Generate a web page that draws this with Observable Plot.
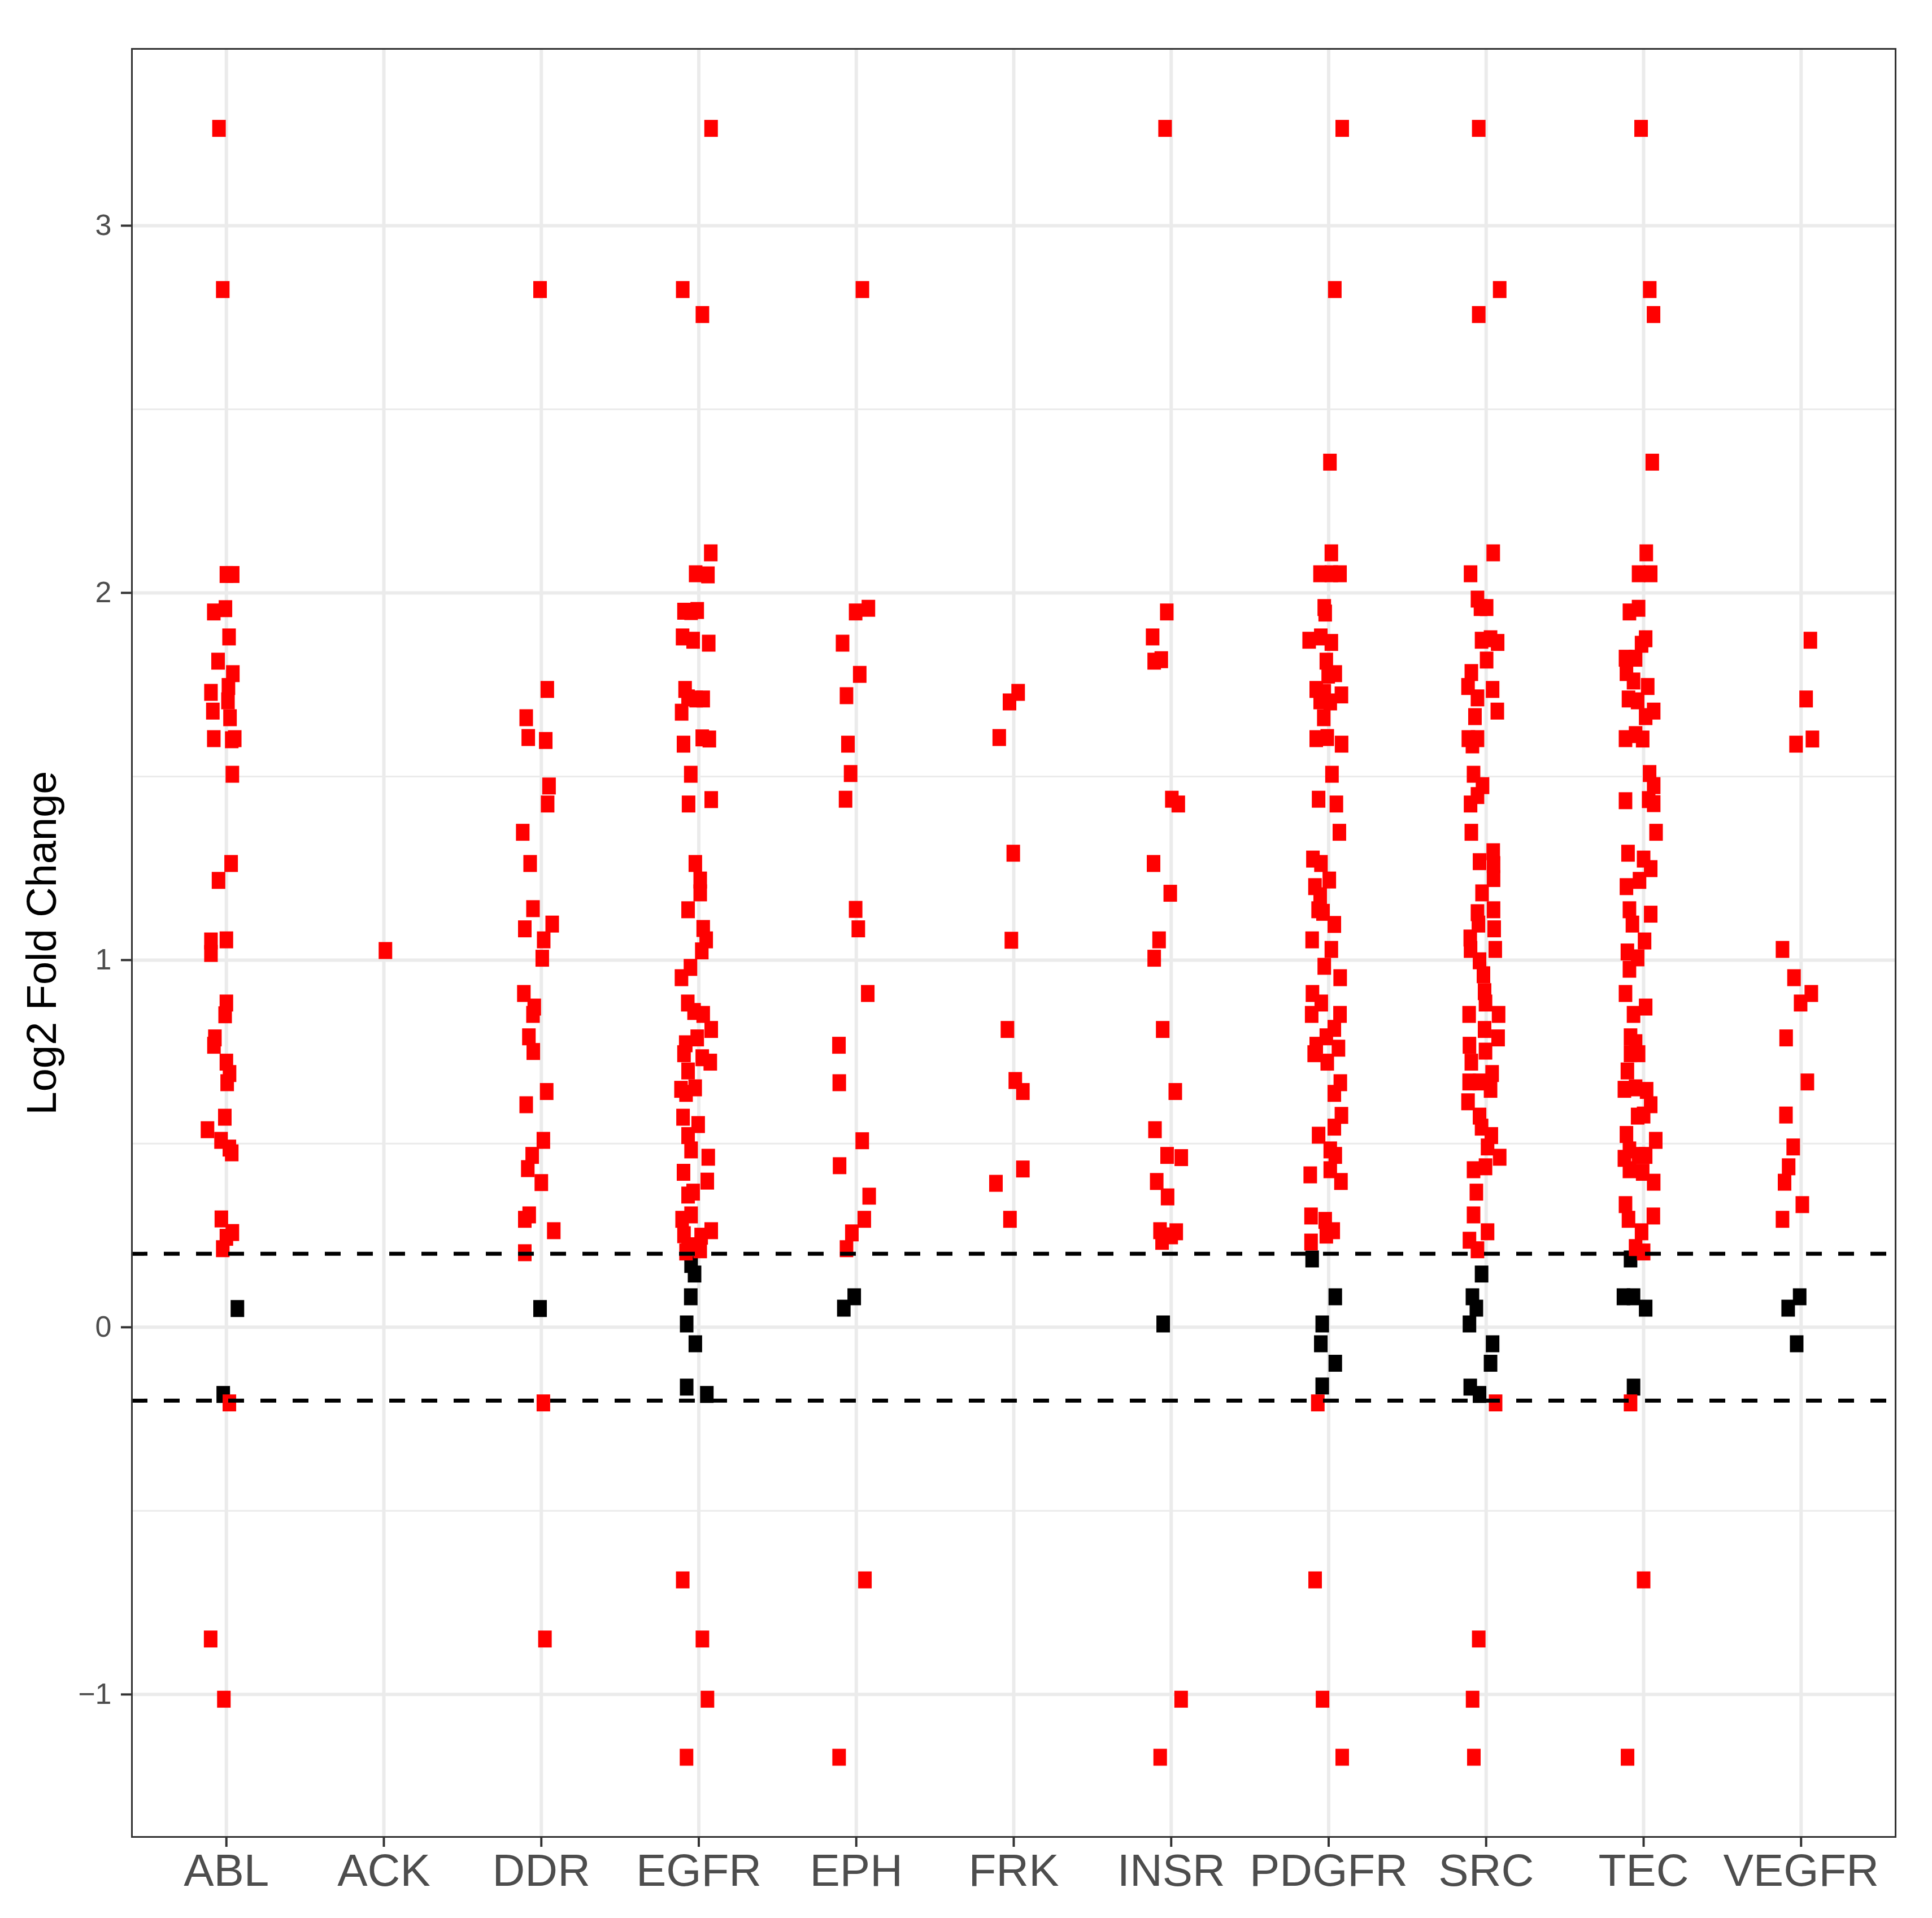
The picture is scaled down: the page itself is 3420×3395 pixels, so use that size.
<!DOCTYPE html>
<html><head><meta charset="utf-8">
<script src="https://cdn.jsdelivr.net/npm/d3@7"></script>
<script src="https://cdn.jsdelivr.net/npm/@observablehq/plot@0.6"></script>
<style>html,body{margin:0;padding:0;background:#fff;} #chart svg{display:block;}</style>
</head><body><div id="chart"></div>
<script>
const kinases = ["ABL","ACK","DDR","EGFR","EPH","FRK","INSR","PDGFR","SRC","TEC","VEGFR"];
const yTicks = [-1, 0, 1, 2, 3];
const yMinor = [-0.5, 0.5, 1.5, 2.5];
const threshold = 0.2;
const yLabel = "Log2 Fold Change";

// [log2 fold change, horizontal jitter (category units)]
const ABL = [[3.265,-0.047],[2.826,-0.023],[2.05,0],[2.05,0.04],[1.948,-0.08],[1.957,-0.006],[1.88,0.017],[1.814,-0.053],[1.78,0.041],[1.729,-0.098],[1.745,0.013],[1.706,0.01],[1.66,0.023],[1.678,-0.086],[1.603,-0.08],[1.603,0.053],[1.6,0.034],[1.506,0.038],[1.263,0.03],[1.217,-0.05],[1.052,-0.098],[1.018,-0.098],[1.055,0],[0.883,0],[0.851,-0.008],[0.788,-0.073],[0.768,-0.079],[0.722,0],[0.691,0.02],[0.666,0.005],[0.572,-0.01],[0.538,-0.12],[0.509,-0.034],[0.488,0.019],[0.475,0.034],[0.295,-0.032],[0.258,0.038],[0.245,0],[0.214,-0.023],[0.051,0.07],[-0.183,-0.02],[-0.206,0.019],[-0.849,-0.1],[-1.013,-0.016]];
const ACK = [[1.026,0.01]];
const DDR = [[2.826,-0.008],[1.737,0.038],[1.66,-0.096],[1.606,-0.083],[1.598,0.028],[1.474,0.049],[1.425,0.04],[1.348,-0.118],[1.263,-0.071],[1.14,-0.053],[1.098,0.069],[1.085,-0.105],[1.055,0.015],[1.005,0.006],[0.909,-0.111],[0.872,-0.045],[0.852,-0.053],[0.791,-0.079],[0.751,-0.051],[0.642,0.034],[0.606,-0.096],[0.509,0.013],[0.468,-0.058],[0.432,-0.086],[0.394,0],[0.294,-0.105],[0.306,-0.077],[0.263,0.079],[0.203,-0.105],[0.051,-0.008],[-0.206,0.013],[-0.849,0.023]];
const EGFR = [[3.265,0.078],[2.826,-0.102],[2.758,0.023],[2.109,0.076],[2.052,-0.02],[2.049,0.058],[1.95,-0.094],[1.949,-0.049],[1.952,-0.01],[1.88,-0.103],[1.871,-0.036],[1.863,0.063],[1.737,-0.087],[1.714,-0.068],[1.711,-0.017],[1.711,0.028],[1.675,-0.109],[1.588,-0.097],[1.605,0.022],[1.602,0.067],[1.506,-0.051],[1.425,-0.065],[1.437,0.079],[1.263,-0.022],[1.218,0.009],[1.183,0.009],[1.137,-0.068],[1.086,0.028],[1.055,0.047],[1.025,0.019],[0.98,-0.053],[0.952,-0.11],[0.883,-0.07],[0.86,-0.03],[0.852,0.028],[0.811,0.079],[0.772,-0.083],[0.788,-0.01],[0.745,-0.094],[0.722,0.073],[0.734,0.022],[0.698,-0.068],[0.648,-0.113],[0.637,-0.081],[0.652,-0.023],[0.572,-0.1],[0.552,-0.004],[0.522,-0.068],[0.483,-0.049],[0.463,0.06],[0.422,-0.097],[0.398,0.054],[0.36,-0.068],[0.368,-0.036],[0.294,-0.106],[0.306,-0.049],[0.263,0.079],[0.252,-0.094],[0.248,0.015],[0.222,-0.068],[0.211,0.009],[0.205,-0.081],[0.171,-0.049],[0.145,-0.027],[0.083,-0.051],[0.009,-0.077],[-0.045,-0.022],[-0.163,-0.077],[-0.183,0.051],[-0.688,-0.102],[-0.849,0.023],[-1.013,0.055],[-1.171,-0.078]];
const EPH = [[2.826,0.039],[1.958,0.077],[1.948,-0.004],[1.863,-0.087],[1.778,0.022],[1.72,-0.062],[1.588,-0.053],[1.508,-0.036],[1.438,-0.068],[1.138,-0.004],[1.085,0.013],[0.909,0.073],[0.768,-0.11],[0.666,-0.108],[0.508,0.038],[0.44,-0.106],[0.357,0.082],[0.294,0.051],[0.257,-0.028],[0.214,-0.062],[0.083,-0.013],[0.052,-0.079],[-0.688,0.055],[-1.171,-0.109]];
const FRK = [[1.729,0.028],[1.703,-0.027],[1.606,-0.092],[1.291,-0.003],[1.054,-0.015],[0.811,-0.04],[0.672,0.01],[0.642,0.058],[0.431,0.058],[0.392,-0.113],[0.294,-0.024]];
const INSR = [[3.265,-0.039],[1.948,-0.028],[1.88,-0.118],[1.814,-0.108],[1.818,-0.063],[1.438,0.004],[1.425,0.045],[1.263,-0.112],[1.182,-0.006],[1.055,-0.077],[1.005,-0.108],[0.811,-0.054],[0.642,0.026],[0.538,-0.103],[0.468,-0.026],[0.462,0.064],[0.397,-0.092],[0.355,-0.023],[0.263,-0.071],[0.26,0.032],[0.249,0],[0.234,-0.058],[0.009,-0.051],[-1.013,0.063],[-1.171,-0.07]];
const PDGFR = [[3.265,0.086],[2.826,0.039],[2.356,0.008],[2.109,0.017],[2.052,-0.055],[2.052,0.017],[2.052,0.072],[1.96,-0.028],[1.945,-0.022],[1.871,-0.124],[1.88,-0.05],[1.865,0.017],[1.814,-0.015],[1.78,0.042],[1.776,-0.003],[1.737,-0.079],[1.729,-0.028],[1.722,0.081],[1.706,-0.054],[1.703,0.01],[1.66,-0.031],[1.603,-0.079],[1.606,-0.009],[1.588,0.082],[1.506,0.021],[1.438,-0.064],[1.425,0.049],[1.348,0.068],[1.275,-0.1],[1.263,-0.049],[1.218,0.004],[1.2,-0.087],[1.175,-0.054],[1.137,-0.067],[1.097,0.036],[1.13,-0.036],[1.055,-0.105],[1.029,0.017],[0.983,-0.028],[0.952,0.073],[0.909,-0.103],[0.883,-0.047],[0.852,-0.108],[0.852,0.072],[0.814,0.036],[0.768,-0.079],[0.791,-0.015],[0.76,0.062],[0.745,-0.092],[0.722,-0.009],[0.666,0.074],[0.637,0.036],[0.577,0.081],[0.545,0.036],[0.523,-0.064],[0.483,0.01],[0.468,0.042],[0.429,0.01],[0.397,0.078],[0.415,-0.117],[0.303,-0.112],[0.291,-0.022],[0.263,0.029],[0.251,-0.015],[0.232,-0.112],[0.186,-0.105],[0.083,0.042],[0.009,-0.041],[-0.045,-0.05],[-0.098,0.042],[-0.16,-0.041],[-0.206,-0.069],[-0.688,-0.086],[-1.013,-0.039],[-1.171,0.086]];
const SRC = [[3.265,-0.047],[2.826,0.086],[2.758,-0.047],[2.109,0.045],[2.052,-0.099],[1.983,-0.055],[1.96,-0.036],[1.96,0.003],[1.871,-0.029],[1.875,0.028],[1.865,0.073],[1.817,0.003],[1.783,-0.094],[1.745,-0.115],[1.714,-0.055],[1.737,0.041],[1.678,0.071],[1.663,-0.071],[1.603,-0.113],[1.603,-0.055],[1.586,-0.087],[1.506,-0.08],[1.475,-0.023],[1.448,-0.055],[1.425,-0.099],[1.348,-0.094],[1.295,0.045],[1.268,-0.042],[1.26,0.047],[1.222,0.047],[1.183,-0.026],[1.137,0.047],[1.129,-0.055],[1.085,0.051],[1.098,-0.049],[1.029,0.058],[1.06,-0.101],[1.029,-0.099],[0.998,-0.042],[0.96,-0.017],[0.914,-0.01],[0.883,-0.004],[0.852,-0.108],[0.852,0.079],[0.811,-0.01],[0.788,0.076],[0.768,-0.106],[0.752,-0.004],[0.722,-0.094],[0.691,0.038],[0.668,-0.108],[0.668,-0.042],[0.648,0.028],[0.614,-0.115],[0.575,-0.042],[0.545,-0.029],[0.522,0.033],[0.491,0.009],[0.463,0.086],[0.429,-0.08],[0.437,-0.004],[0.368,-0.062],[0.306,-0.08],[0.26,0.009],[0.237,-0.106],[0.211,-0.055],[0.145,-0.029],[0.083,-0.087],[0.052,-0.062],[0.009,-0.106],[-0.045,0.041],[-0.098,0.028],[-0.163,-0.101],[-0.183,-0.042],[-0.206,0.06],[-0.849,-0.047],[-1.013,-0.086],[-1.171,-0.078]];
const TEC = [[3.265,-0.016],[2.826,0.039],[2.758,0.063],[2.356,0.055],[2.109,0.017],[2.052,-0.032],[2.052,0.045],[1.948,-0.09],[1.958,-0.032],[1.875,0.013],[1.86,-0.013],[1.822,-0.115],[1.822,-0.051],[1.783,-0.109],[1.76,-0.064],[1.745,0.026],[1.711,-0.096],[1.706,-0.038],[1.678,0.064],[1.663,0.013],[1.603,-0.115],[1.614,-0.051],[1.602,-0.006],[1.508,0.038],[1.475,0.064],[1.434,-0.115],[1.437,0.032],[1.426,0.064],[1.348,0.079],[1.291,-0.099],[1.275,0],[1.249,0.045],[1.2,-0.109],[1.217,-0.026],[1.137,-0.09],[1.098,-0.071],[1.125,0.045],[1.052,0.006],[1.022,-0.103],[1.006,-0.038],[0.975,-0.09],[0.909,-0.115],[0.852,-0.064],[0.872,0.013],[0.791,-0.083],[0.775,-0.051],[0.745,-0.083],[0.745,-0.032],[0.698,-0.103],[0.648,-0.122],[0.652,-0.051],[0.645,0.019],[0.606,0.045],[0.575,-0.038],[0.578,0],[0.525,-0.109],[0.509,0.077],[0.483,-0.09],[0.46,-0.122],[0.468,-0.032],[0.468,0.013],[0.429,-0.09],[0.422,-0.006],[0.395,0.064],[0.334,-0.115],[0.294,-0.096],[0.303,0.062],[0.26,-0.013],[0.217,-0.051],[0.205,0],[0.186,-0.083],[0.083,-0.128],[0.083,-0.064],[0.052,0.013],[-0.163,-0.064],[-0.206,-0.083],[-0.688,0],[-1.171,-0.102]];
const VEGFR = [[1.871,0.059],[1.711,0.032],[1.588,-0.032],[1.602,0.072],[1.029,-0.118],[0.952,-0.045],[0.883,-0.003],[0.909,0.065],[0.788,-0.095],[0.668,0.04],[0.578,-0.096],[0.491,-0.05],[0.437,-0.079],[0.395,-0.105],[0.334,0.008],[0.294,-0.118],[0.083,-0.009],[0.052,-0.082],[-0.045,-0.028]];

const groups = [ABL, ACK, DDR, EGFR, EPH, FRK, INSR, PDGFR, SRC, TEC, VEGFR];
const rows = [];
groups.forEach((g, i) => g.forEach(([v, j]) => rows.push({
  kinase: kinases[i], pos: i + 1 + j, lfc: v,
  status: Math.abs(v) > threshold ? "sig" : "ns"
})));
rows.sort((a, b) => (a.status === b.status ? 0 : a.status === "ns" ? -1 : 1));

// filled rectangle glyph (like ggplot shape 15)
const box = {
  draw(ctx, size) {
    const r = Math.sqrt(size / Math.PI);
    ctx.moveTo(-0.8 * r, -r); ctx.lineTo(0.8 * r, -r);
    ctx.lineTo(0.8 * r, r); ctx.lineTo(-0.8 * r, r); ctx.closePath();
  }
};
const positions = d3.range(1, kinases.length + 1);
const fmtY = d3.format("d");

const chart = Plot.plot({
  width: 3420, height: 3395,
  marginTop: 86, marginBottom: 144, marginLeft: 233, marginRight: 65,
  style: {fontFamily: "'Liberation Sans', Arial, Helvetica, sans-serif", background: "#ffffff"},
  x: {domain: [0.4, kinases.length + 0.6]},
  y: {domain: [-1.388, 3.4815]},
  color: {domain: ["ns", "sig"], range: ["#000000", "#ff0000"]},
  marks: [
    Plot.gridY(yMinor, {stroke: "#EBEBEB", strokeOpacity: 1, strokeWidth: 3}),
    Plot.gridY(yTicks, {stroke: "#EBEBEB", strokeOpacity: 1, strokeWidth: 6}),
    Plot.gridX(positions, {stroke: "#EBEBEB", strokeOpacity: 1, strokeWidth: 6}),
    Plot.dot(rows, {x: "pos", y: "lfc", fill: "status", r: 15, symbol: box}),
    Plot.ruleY([threshold, -threshold], {stroke: "#000000", strokeWidth: 7, strokeDasharray: "28,29"}),
    Plot.frame({stroke: "#333333", strokeWidth: 3}),
    Plot.axisY(yTicks, {color: "#333333", tickSize: 19, strokeWidth: 4, tickFormat: () => "", label: null}),
    Plot.axisY(yTicks, {color: "#4D4D4D", tickSize: 0, tickPadding: 36, fontSize: 52, tickFormat: fmtY, label: null}),
    Plot.axisX(positions, {color: "#333333", tickSize: 18, strokeWidth: 4, tickFormat: () => "", label: null}),
    Plot.axisX(positions, {color: "#4D4D4D", tickSize: 0, tickPadding: 30, fontSize: 80, tickFormat: (i) => kinases[i - 1], label: null}),
    Plot.text([yLabel], {frameAnchor: "left", rotate: -90, dx: -135, fontSize: 74, fill: "#000000", textAnchor: "middle", lineAnchor: "bottom"})
  ]
});
document.getElementById("chart").appendChild(chart);
</script>
</body></html>
